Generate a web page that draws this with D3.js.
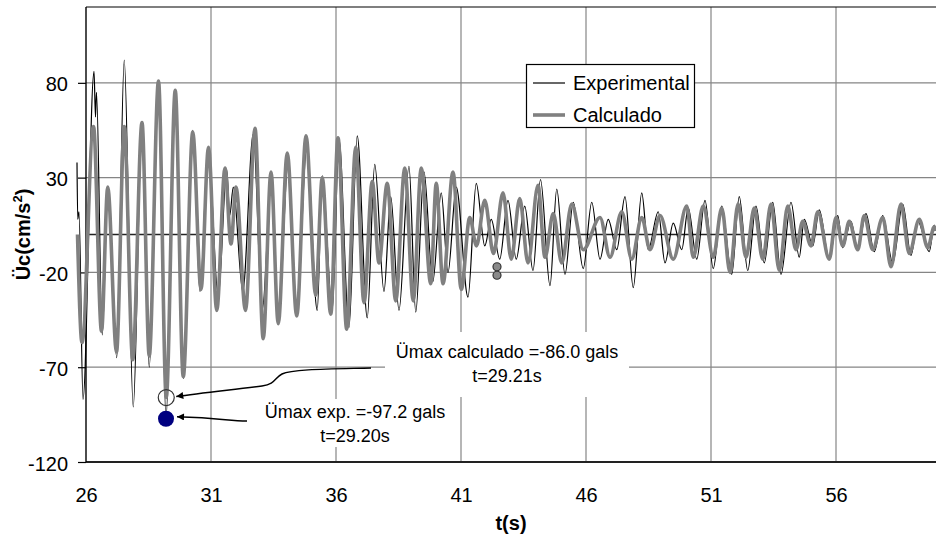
<!DOCTYPE html>
<html><head><meta charset="utf-8">
<script src="https://cdn.jsdelivr.net/npm/d3@7"></script>
<style>
html,body{margin:0;padding:0;background:#fff;}
svg{display:block;font-family:"Liberation Sans",Arial,sans-serif;}
</style></head>
<body><svg id="c" width="936" height="538"></svg>
<script>
// ---- data ----
const xTicks = [26, 31, 36, 41, 46, 51, 56];
const yTicks = [-120, -70, -20, 30, 80];
const seriesNames = ["Experimental", "Calculado"];

const expT = [25.64,25.67,25.72,25.88,26.32,26.38,26.42,26.65,26.87,27.23,27.53,27.89,28.24,28.53,28.9,29.2,29.57,29.9,30.27,30.56,30.89,31.29,31.63,31.75,31.89,32.27,32.69,33.05,33.43,33.69,34.09,34.43,34.83,35.25,35.45,35.85,36.12,36.52,36.85,37.25,37.55,37.92,38.19,38.52,38.92,39.19,39.52,39.87,40.21,40.48,40.81,41.28,41.61,41.95,42.21,42.55,42.88,43.21,43.55,43.88,44.18,44.56,44.83,45.16,45.49,45.89,46.23,46.56,46.89,47.23,47.56,47.89,48.23,48.49,48.89,49.16,49.49,49.83,50.09,50.43,50.76,51.09,51.43,51.83,52.13,52.47,52.8,53.13,53.47,53.8,54.2,54.53,54.73,55.07,55.33,55.73,56.07,56.27,56.6,56.87,57.2,57.53,57.87,58.27,58.67,59.0,59.27,59.73,59.93,60.0];
const expV = [38,8,12,-87,86,62,75,-53,25,-65,92,-91,59,-70,81,-97.2,76,-76,55,-30,45,-33,34,10,25,-30,53,-40,32,-47,39,-42,46,-40,31,-40,50,-49,52,-44,37,-30,20,-40,36,-41,33,-25,22,-20,25,-33,27,-6,8,-13,18,-13,15,-19,29,-27,24,-21,17,-18,17,-13,8,-8,20,-28,22,-8,12,-15,6,-8,14,-13,18,-18,15,-21,20,-19,15,-15,17,-21,17,-12,8,-6,13,-13,10,-7,7,-8,11,-9,10,-15,16,-11,7,-9,5,2];

const calcT = [25.66,25.84,26.3,26.62,26.87,27.22,27.53,27.87,28.24,28.53,28.9,29.21,29.57,29.89,30.27,30.6,30.9,31.23,31.56,31.8,32.0,32.38,32.76,33.09,33.4,33.69,34.05,34.43,34.8,35.19,35.45,35.79,36.08,36.43,36.79,37.12,37.45,37.72,38.05,38.39,38.75,39.09,39.41,39.79,40.01,40.28,40.68,41.01,41.35,41.62,41.95,42.3,42.68,43.01,43.35,43.68,44.08,44.36,44.69,45.03,45.43,45.89,46.56,46.96,47.43,47.83,48.23,48.56,48.96,49.49,50.03,50.29,50.69,51.09,51.43,51.76,52.08,52.4,52.73,53.07,53.4,53.73,54.07,54.4,54.67,55.0,55.27,55.73,56.0,56.27,56.53,56.87,57.13,57.47,57.87,58.2,58.6,58.93,59.33,59.67,59.93,60.0];
const calcV = [0,-57,57,-51,25,-62,57,-66,59,-64,81,-86,76,-75,54,-29,46,-40,35,-5,25,-40,56,-55,33,-47,43,-43,52,-32,30,-42,51,-50,46,-36,28,-15,27,-35,35,-35,35,-26,27,-26,33,-29,9,-6,18,-10,22,-13,19,-15,26,-12,11,-15,16,-8,9,-12,12,-13,9,-8,10,-13,15,-12,15,-12,14,-20,16,-12,14,-13,16,-19,15,-8,7,-6,12,-13,9,-6,7,-8,10,-8,9,-17,16,-10,8,-7,4,2];

const markT = [42.44, 42.44];
const markV = [-17, -21.5];
const maxExp = {t: 29.20, v: -97.2, label: ["Ümax exp. =-97.2 gals", "t=29.20s"]};
const maxCalc = {t: 29.21, v: -86.0, label: ["Ümax calculado =-86.0 gals", "t=29.21s"]};

// ---- chart ----
const svg = d3.select("#c");
const L = 86, R = 936, T = 7, B = 462;
const x = d3.scaleLinear().domain([26, 60]).range([L, R]);
const y = d3.scaleLinear().domain([-120, 120]).range([B, T]);
const font = '"Liberation Sans",Arial,sans-serif';

// gridlines
svg.append("g").selectAll("line").data(xTicks.filter(d => d !== 26)).join("line")
  .attr("x1", d => x(d)).attr("x2", d => x(d)).attr("y1", T).attr("y2", B)
  .attr("stroke", "#858585").attr("stroke-width", 1.2);
svg.append("g").selectAll("line").data(yTicks.filter(d => d !== -120)).join("line")
  .attr("x1", L).attr("x2", R).attr("y1", d => y(d)).attr("y2", d => y(d))
  .attr("stroke", "#858585").attr("stroke-width", 1.2);

// frame
svg.append("line").attr("x1", L).attr("x2", R).attr("y1", T).attr("y2", T).attr("stroke", "#000").attr("stroke-width", 1.2);
svg.append("line").attr("x1", L).attr("x2", R).attr("y1", B).attr("y2", B).attr("stroke", "#222").attr("stroke-width", 1.8);
// zero line
svg.append("line").attr("x1", L).attr("x2", R).attr("y1", y(0)).attr("y2", y(0)).attr("stroke", "#222").attr("stroke-width", 1.6);

// y axis
const ya = svg.append("g").attr("transform", `translate(${L},0)`)
  .call(d3.axisLeft(y).tickValues(yTicks).tickSize(8).tickSizeOuter(0).tickPadding(10).tickFormat(d => String(d)));
ya.select(".domain").attr("stroke", "#000").attr("stroke-width", 1.4).attr("d", `M0,${T}V${B}`);
ya.selectAll(".tick line").attr("stroke", "#000").attr("stroke-width", 1.2);
ya.selectAll(".tick text").attr("font-family", font).attr("font-size", 20).attr("fill", "#000").attr("dy", "0.4em");

// x axis
const xa = svg.append("g").attr("transform", `translate(0,${B})`)
  .call(d3.axisBottom(x).tickValues(xTicks).tickSize(0).tickPadding(26).tickFormat(d => String(d)));
xa.select(".domain").remove();
xa.selectAll(".tick text").attr("font-family", font).attr("font-size", 20).attr("fill", "#000");

// series
const lineExp = d3.line().x((d, i) => x(expT[i])).y(d => y(d)).curve(d3.curveMonotoneX);
const lineCalc = d3.line().x((d, i) => x(calcT[i])).y(d => y(d)).curve(d3.curveMonotoneX);
svg.append("path").attr("d", lineExp(expV)).attr("fill", "none").attr("stroke", "#000").attr("stroke-width", 1.2);
svg.append("path").attr("d", lineCalc(calcV)).attr("fill", "none").attr("stroke", "#808080").attr("stroke-width", 3.6).attr("stroke-linejoin", "round");

// small markers
svg.append("g").selectAll("circle").data(markV).join("circle")
  .attr("cx", (d, i) => x(markT[i])).attr("cy", d => y(d)).attr("r", 4)
  .attr("fill", "#8a8a8a").attr("stroke", "#333").attr("stroke-width", 1.2);

// max markers
svg.append("circle").attr("cx", x(maxCalc.t)).attr("cy", y(maxCalc.v)).attr("r", 8)
  .attr("fill", "none").attr("stroke", "#333").attr("stroke-width", 1.2);
svg.append("circle").attr("cx", x(maxExp.t)).attr("cy", y(maxExp.v)).attr("r", 8)
  .attr("fill", "#000080");

// legend
const lg = svg.append("g");
lg.append("rect").attr("x", 526.5).attr("y", 64.5).attr("width", 168).attr("height", 63)
  .attr("fill", "#fff").attr("stroke", "#000").attr("stroke-width", 1.2);
seriesNames.forEach((n, i) => {
  const yy = 83 + i * 32;
  lg.append("line").attr("x1", 533).attr("x2", 565).attr("y1", yy).attr("y2", yy)
    .attr("stroke", i === 0 ? "#000" : "#808080").attr("stroke-width", i === 0 ? 1.2 : 3.6);
  lg.append("text").attr("x", 573).attr("y", yy + 7).attr("font-family", font).attr("font-size", 20).text(n);
});

// annotation boxes
const calcBox = {x: 385, y: 332, w: 244, h: 65};
const expBox = {x: 250, y: 399, w: 208, h: 48};
svg.append("rect").attr("x", calcBox.x).attr("y", calcBox.y).attr("width", calcBox.w).attr("height", calcBox.h).attr("fill", "#fff");
svg.append("rect").attr("x", expBox.x).attr("y", expBox.y).attr("width", expBox.w).attr("height", expBox.h).attr("fill", "#fff");
const cx1 = 507;
svg.append("text").attr("x", cx1).attr("y", 358).attr("text-anchor", "middle").attr("font-family", font).attr("font-size", 18).text(maxCalc.label[0]);
svg.append("text").attr("x", cx1).attr("y", 382).attr("text-anchor", "middle").attr("font-family", font).attr("font-size", 18).text(maxCalc.label[1]);
svg.append("text").attr("x", 355).attr("y", 418).attr("text-anchor", "middle").attr("font-family", font).attr("font-size", 18).text(maxExp.label[0]);
svg.append("text").attr("x", 355).attr("y", 442).attr("text-anchor", "middle").attr("font-family", font).attr("font-size", 18).text(maxExp.label[1]);

// arrows
const defs = svg.append("defs");
defs.append("marker").attr("id", "ah").attr("viewBox", "0 0 10 10").attr("refX", 10).attr("refY", 5)
  .attr("markerWidth", 9).attr("markerHeight", 7).attr("markerUnits", "userSpaceOnUse").attr("orient", "auto")
  .append("path").attr("d", "M0,0L10,5L0,10Z").attr("fill", "#000");
const ecx = x(maxCalc.t) + 10, ecy = y(maxCalc.v) - 1;
svg.append("path")
  .attr("d", `M371,368 C330,369 292,369 282,374 C274,378 276,384 262,386 C230,390 200,393 ${ecx},${ecy}`)
  .attr("fill", "none").attr("stroke", "#000").attr("stroke-width", 1.4).attr("marker-end", "url(#ah)");
const eex = x(maxExp.t) + 11, eey = y(maxExp.v) - 2;
svg.append("path")
  .attr("d", `M247,421 C228,421 222,418 ${eex},${eey}`)
  .attr("fill", "none").attr("stroke", "#000").attr("stroke-width", 1.4).attr("marker-end", "url(#ah)");

// axis titles
svg.append("text").attr("x", (L + R) / 2).attr("y", 530).attr("text-anchor", "middle")
  .attr("font-family", font).attr("font-size", 20).attr("font-weight", "bold").text("t(s)");
const yt = svg.append("text").attr("transform", `translate(30,${(T + B) / 2}) rotate(-90)`).attr("text-anchor", "middle")
  .attr("font-family", font).attr("font-size", 20).attr("font-weight", "bold");
yt.append("tspan").text("Üc(cm/s");
yt.append("tspan").attr("font-size", 13).attr("dy", -8).text("2");
yt.append("tspan").attr("dy", 8).text(")");
</script></body></html>
